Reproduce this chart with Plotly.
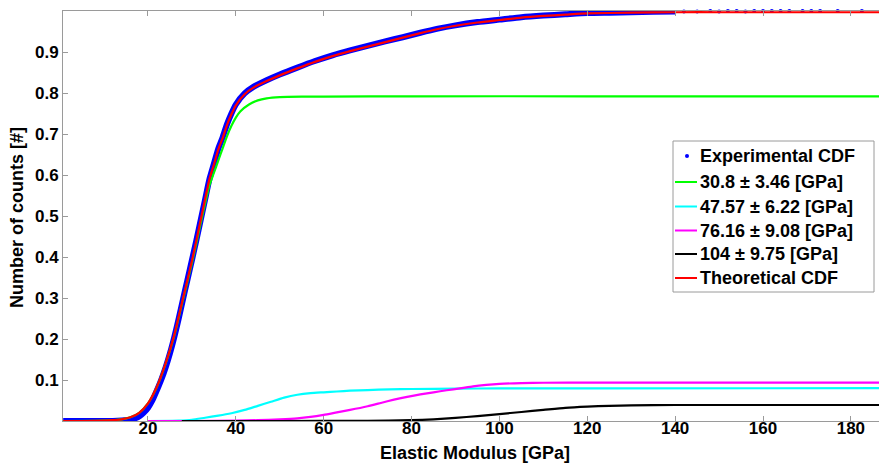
import plotly.graph_objects as go

# ---- data -------------------------------------------------------------
# Experimental CDF (dense part of the measured curve)
exp_x = [0.7, 2, 4, 6, 8, 10, 12, 14, 16, 17, 18, 19, 20, 21, 22, 23, 24, 25,
         26, 27, 28, 29, 30, 31, 32, 33, 34, 35, 36, 37, 38, 39, 40, 42, 44,
         47, 50, 54, 58, 62, 66, 70, 74, 78, 82, 86, 90, 95, 100, 105, 110,
         115, 120, 125, 130, 135, 140]
exp_y = [0, 0, 0, 0, 0, 0, 0, 0.001, 0.003, 0.006, 0.011, 0.02, 0.032, 0.05,
         0.074, 0.1, 0.13, 0.165, 0.205, 0.25, 0.298, 0.345, 0.392, 0.44,
         0.49, 0.54, 0.59, 0.627, 0.664, 0.692, 0.724, 0.75, 0.772, 0.799,
         0.815, 0.831, 0.845, 0.862, 0.878, 0.892, 0.904, 0.915, 0.926, 0.936,
         0.947, 0.957, 0.965, 0.973, 0.979, 0.985, 0.989, 0.992, 0.995, 0.996,
         0.997, 0.998, 0.999]
# Experimental CDF (sparse high-modulus points)
exp_tail_x = [142, 145, 148, 150, 152, 154, 156, 158, 160, 162, 164, 166,
              169, 171, 173, 177, 182.5]
exp_tail_y = [0.999, 0.999, 1.0, 0.999, 1.0, 1.0, 0.999, 1.0, 1.0, 1.0, 1.0,
              1.0, 1.0, 1.0, 1.0, 1.0, 1.0]

# Component 1: 30.8 ± 3.46 GPa
c1_x = [0.7, 10, 14, 16, 18, 20, 22, 24, 26, 28, 30, 32, 34, 35, 36, 37, 38,
        39, 40, 41, 43, 45, 47, 50, 55, 60, 80, 120, 186.4]
c1_y = [0, 0.001, 0.004, 0.009, 0.02, 0.043, 0.082, 0.139, 0.208, 0.297,
        0.385, 0.482, 0.575, 0.605, 0.635, 0.665, 0.695, 0.72, 0.74, 0.755,
        0.772, 0.782, 0.787, 0.79, 0.791, 0.791, 0.792, 0.792, 0.792]

# Component 2: 47.57 ± 6.22 GPa
c2_x = [20, 27, 30, 33, 36, 39, 42, 45, 48, 51, 54, 57, 60, 63, 66, 70, 75,
        80, 90, 100, 120, 186.4]
c2_y = [0, 0.001, 0.003, 0.008, 0.013, 0.019, 0.027, 0.037, 0.047, 0.057,
        0.064, 0.068, 0.07, 0.072, 0.074, 0.0755, 0.077, 0.078, 0.079, 0.0795,
        0.0798, 0.08]

# Component 3: 76.16 ± 9.08 GPa
c3_x = [20, 30, 40, 45, 50, 54, 57, 60, 63, 66, 70, 73, 76, 79, 82, 85, 88,
        91, 94, 97, 100, 105, 110, 120, 186.4]
c3_y = [0, 0, 0.001, 0.002, 0.004, 0.0065, 0.01, 0.015, 0.021, 0.027, 0.036,
        0.044, 0.052, 0.059, 0.065, 0.07, 0.075, 0.0795, 0.0845, 0.088,
        0.0905, 0.0925, 0.0933, 0.0935, 0.0935]

# Component 4: 104 ± 9.75 GPa
c4_x = [27.7, 50, 70, 80, 85, 90, 95, 100, 105, 110, 115, 120, 125, 130, 140,
        150, 186.4]
c4_y = [0, 0, 0.0005, 0.002, 0.004, 0.0075, 0.012, 0.017, 0.022, 0.027,
        0.032, 0.035, 0.037, 0.038, 0.039, 0.039, 0.039]

# Theoretical CDF (sum of the components)
th_x = [0.7, 5, 10, 12, 14, 16, 18, 20, 22, 24, 26, 28, 30, 32, 34, 35, 36,
        37, 38, 39, 40, 42, 44, 47, 50, 54, 58, 62, 66, 70, 74, 78, 82, 86,
        90, 95, 100, 105, 110, 115, 120, 130, 140, 150, 186.4]
th_y = [0, 0, 0.001, 0.002, 0.004, 0.009, 0.02, 0.043, 0.083, 0.14, 0.21,
        0.3, 0.39, 0.49, 0.59, 0.625, 0.662, 0.69, 0.722, 0.748, 0.77, 0.797,
        0.813, 0.829, 0.843, 0.86, 0.876, 0.89, 0.902, 0.913, 0.924, 0.935,
        0.946, 0.956, 0.964, 0.972, 0.978, 0.984, 0.988, 0.991, 0.994, 0.996,
        0.997, 0.997, 0.997]

legend_labels = ["Experimental CDF", "30.8 ± 3.46 [GPa]", "47.57 ± 6.22 [GPa]",
                 "76.16 ± 9.08 [GPa]", "104 ± 9.75 [GPa]", "Theoretical CDF"]
legend_colors = ["#0000ff", "#00ff00", "#00ffff", "#ff00ff", "#000000",
                 "#ff0000"]

x_ticks = [20, 40, 60, 80, 100, 120, 140, 160, 180]
y_ticks = [0.1, 0.2, 0.3, 0.4, 0.5, 0.6, 0.7, 0.8, 0.9]
x_title = "Elastic Modulus [GPa]"
y_title = "Number of counts [#]"

# ---- figure -----------------------------------------------------------
W, H = 879, 466
ML, MR, MT, MB = 63, 0, 11, 45
FONT = "Liberation Sans, Arial, sans-serif"
AXIS_GREY = "#9a9a9a"

fig = go.Figure()

fig.add_trace(go.Scatter(x=exp_x, y=exp_y, mode="lines",
                         line=dict(color=legend_colors[0], width=6,
                                   shape="spline", smoothing=0.6),
                         showlegend=False))
fig.add_trace(go.Scatter(x=exp_tail_x, y=exp_tail_y, mode="markers",
                         marker=dict(color=legend_colors[0], size=4),
                         cliponaxis=False, showlegend=False))

for xs, ys, col in [(c1_x, c1_y, legend_colors[1]),
                    (c2_x, c2_y, legend_colors[2]),
                    (c3_x, c3_y, legend_colors[3]),
                    (c4_x, c4_y, legend_colors[4]),
                    (th_x, th_y, legend_colors[5])]:
    fig.add_trace(go.Scatter(x=xs, y=ys, mode="lines",
                             line=dict(color=col, width=2.2, shape="spline",
                                       smoothing=0.6),
                             showlegend=False))


# helpers: page pixel -> paper coordinates
def px_x(p):
    return (p - ML) / (W - ML - MR)


def px_y(p):
    return (H - MB - p) / (H - MT - MB)


bold = lambda size: dict(family=FONT, size=size, color="black", weight="bold")

shapes = [dict(type="rect", xref="paper", yref="paper",
               x0=px_x(673), x1=px_x(874), y0=px_y(292), y1=px_y(141),
               line=dict(color=AXIS_GREY, width=1), fillcolor="white",
               layer="above")]
annotations = []
rows = [156, 182, 206.5, 230.5, 254, 278]
for i, (lab, col) in enumerate(zip(legend_labels, legend_colors)):
    yy = rows[i]
    if i == 0:
        shapes.append(dict(type="circle", xref="paper", yref="paper",
                           x0=px_x(685), x1=px_x(689), y0=px_y(158),
                           y1=px_y(154), fillcolor=col,
                           line=dict(color=col, width=0), layer="above"))
    else:
        shapes.append(dict(type="line", xref="paper", yref="paper",
                           x0=px_x(675), x1=px_x(697), y0=px_y(yy),
                           y1=px_y(yy), line=dict(color=col, width=2),
                           layer="above"))
    annotations.append(dict(xref="paper", yref="paper", x=px_x(698),
                            y=px_y(yy), xanchor="left", yanchor="middle",
                            text=lab, showarrow=False, font=bold(18)))

# axis titles
annotations.append(dict(xref="paper", yref="paper", x=px_x(475), y=px_y(453),
                        xanchor="center", yanchor="middle", text=x_title,
                        showarrow=False, font=bold(18)))
annotations.append(dict(xref="paper", yref="paper", x=px_x(17), y=px_y(218),
                        xanchor="center", yanchor="middle", text=y_title,
                        textangle=-90, showarrow=False, font=bold(18)))

fig.update_layout(
    width=W, height=H,
    margin=dict(l=ML, r=MR, t=MT, b=MB, pad=0),
    paper_bgcolor="white", plot_bgcolor="white",
    font=dict(family=FONT, color="black"),
    shapes=shapes, annotations=annotations,
    showlegend=False,
)

fig.update_xaxes(
    range=[0.66, 186.4], tickvals=x_ticks, ticktext=[str(v) for v in x_ticks],
    ticks="inside", ticklen=5, tickcolor=AXIS_GREY, showline=True,
    linecolor=AXIS_GREY, linewidth=1, mirror="ticks", showgrid=False,
    zeroline=False, tickfont=bold(17), ticklabelstandoff=-8,
    automargin=False,
)
fig.update_yaxes(
    range=[0, 1.0], tickvals=y_ticks, ticktext=[f"{v:.1f}" for v in y_ticks],
    ticks="inside", ticklen=5, tickcolor=AXIS_GREY, showline=True,
    linecolor=AXIS_GREY, linewidth=1, mirror=False, showgrid=False,
    zeroline=False, tickfont=bold(17),
    automargin=False,
)

fig.write_html("out.html")
